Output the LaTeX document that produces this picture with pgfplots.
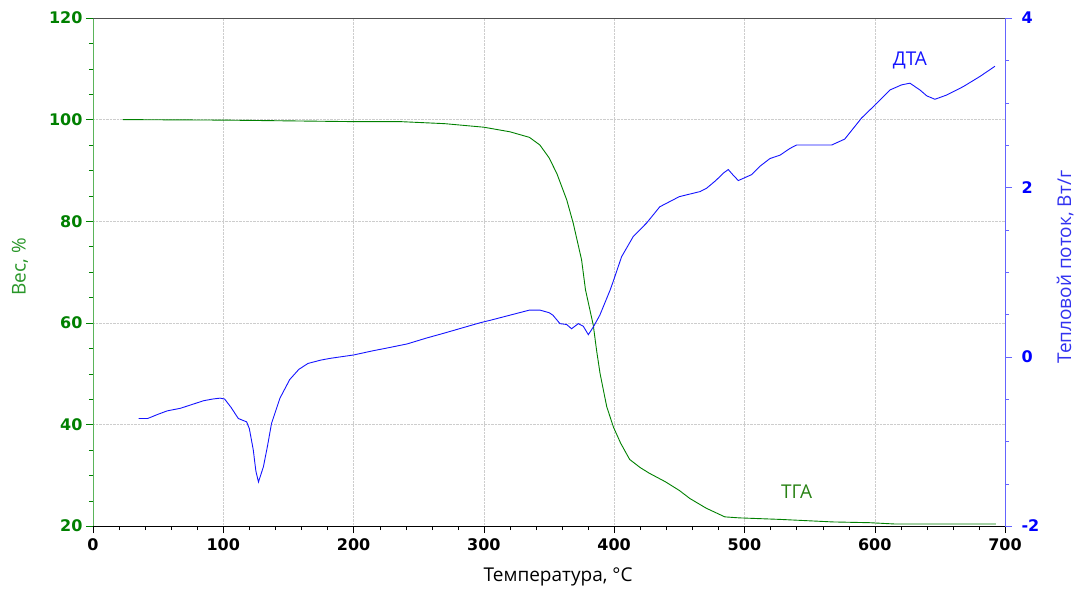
\documentclass[border=0pt]{standalone}
\usepackage{fontspec}
\setmainfont{Open Sans}
\newfontfamily\tickfont{DejaVu Sans}
\usepackage{pgfplots}
\pgfplotsset{compat=1.18}
\definecolor{tgagreen}{RGB}{0,128,0}
\definecolor{axgreen}{RGB}{90,180,90}
\definecolor{labgreen}{RGB}{40,150,40}
\definecolor{dtablue}{RGB}{20,20,255}
\definecolor{axblue}{RGB}{100,100,255}
\definecolor{labblue}{RGB}{50,50,240}
\definecolor{gridgray}{RGB}{205,205,205}
\definecolor{framegray}{RGB}{80,80,80}
\begin{document}
\begin{tikzpicture}
\useasboundingbox (-93pt,-63pt) rectangle (982pt,526pt);
\begin{axis}[
  scale only axis, width=912pt, height=508pt,
  xmin=0, xmax=700, ymin=20, ymax=120,
  axis x line*=bottom, axis y line*=left,
  xtick={0,100,...,700}, minor x tick num=4,
  ytick={20,40,...,120}, minor y tick num=3,
  tick align=outside,
  major tick length=7pt, minor tick length=4pt,
  /pgf/number format/assume math mode=true,
  xticklabel style={font=\tickfont\bfseries\fontsize{16}{16}\selectfont, text=black, yshift=-2pt},
  yticklabel style={font=\tickfont\bfseries\fontsize{16}{16}\selectfont, text=tgagreen},
  x axis line style={black, thick},
  y axis line style={axgreen, thick},
  xtick style={black},
  ytick style={tgagreen},
  grid=major,
  major grid style={gridgray, densely dotted},
  xlabel={Температура, °C},
  xlabel style={font=\fontsize{19}{19}\selectfont, at={(axis description cs:0.51,-0.1)}, anchor=center},
  ylabel={Вес, \%},
  ylabel style={font=\fontsize{19}{19}\selectfont, text=labgreen, at={(axis description cs:-0.08,0.51)}, anchor=center},
  clip=false,
]
\draw[framegray, thick] (rel axis cs:0,1) -- (rel axis cs:1,1);
\addplot[tgagreen, line width=0.9pt] coordinates {
(23,100.0) (100,99.9) (200,99.6) (236,99.6) (270,99.2) (300,98.5) (320,97.6)
(335,96.5) (343,95.0) (350,92.5) (356,89.4) (363.6,84.2) (368.6,79.6) (375,72.4)
(378,66.5) (381,63) (384,59.5) (386.5,54.6) (389.2,50.0) (394.3,43.5) (399.4,39.5)
(405,36.3) (411.9,33.1) (420,31.5) (426.9,30.4) (439.4,28.7) (450,27.0) (458.2,25.4)
(470.7,23.5) (484.9,21.8) (495.9,21.6) (527.3,21.3) (567.9,20.8) (596.2,20.65)
(615,20.4) (693,20.4)
};
\node[font=\fontsize{19}{19}\selectfont, text={rgb,255:red,40;green,130;blue,20}] at (axis cs:540,26.7) {ТГА};
\node[font=\fontsize{19}{19}\selectfont, text=dtablue] at (axis cs:627,111.6) {ДТА};
\end{axis}
\begin{axis}[
  scale only axis, width=912pt, height=508pt,
  xmin=0, xmax=700, ymin=-2, ymax=4,
  axis x line=none, axis y line*=right,
  ytick={-2,0,2,4}, yticklabels={-2,0,2,4}, minor y tick num=3,
  tick align=outside,
  major tick length=7pt, minor tick length=4pt,
  yticklabel style={font=\tickfont\bfseries\fontsize{16}{16}\selectfont, text=blue, xshift=6pt},
  y axis line style={axblue, thick},
  ytick style={axblue},
  ylabel={Тепловой поток, Вт/г},
  ylabel style={font=\fontsize{19}{19}\selectfont, text=labblue, at={(axis description cs:1.066,0.51)}, anchor=center, rotate=0},
]
\addplot[dtablue, line width=0.9pt] coordinates {
(35,-0.73) (42,-0.73) (50,-0.68) (57,-0.64) (67,-0.61) (75,-0.57) (85,-0.52)
(92,-0.50) (97.5,-0.49) (101,-0.50) (106,-0.60) (111.5,-0.73) (117.9,-0.77)
(120,-0.85) (123,-1.10) (125,-1.35) (127,-1.48) (130.8,-1.30) (134,-1.05)
(137,-0.79) (143.5,-0.49) (151,-0.27) (158,-0.15) (165,-0.08) (175,-0.04)
(182,-0.02) (200,0.02) (215,0.07) (225,0.10) (241,0.15) (256,0.22) (270,0.28)
(297,0.40) (305,0.43) (320,0.49) (335,0.55) (343,0.55) (350,0.52) (353,0.49)
(358.4,0.39) (363.5,0.38) (367.3,0.33) (372.5,0.39) (376.3,0.36) (380.2,0.26)
(384,0.35) (389,0.49) (397,0.79) (399.3,0.89) (405.7,1.18) (414.7,1.42)
(425,1.58) (435,1.77) (445,1.85) (450,1.89) (466,1.95) (471,1.99) (478,2.08)
(484,2.17) (487.6,2.21) (491,2.15) (495.3,2.08) (505.5,2.15) (512,2.25)
(519.6,2.34) (527.3,2.38) (535,2.46) (540,2.50) (567,2.50) (577,2.57)
(590,2.82) (601.4,2.99) (611.7,3.15) (620.6,3.21) (627,3.23) (634.7,3.15)
(640,3.08) (646.2,3.04) (655.2,3.09) (668,3.19) (680.8,3.31) (692.3,3.43)
};
\end{axis}
\end{tikzpicture}
\end{document}
